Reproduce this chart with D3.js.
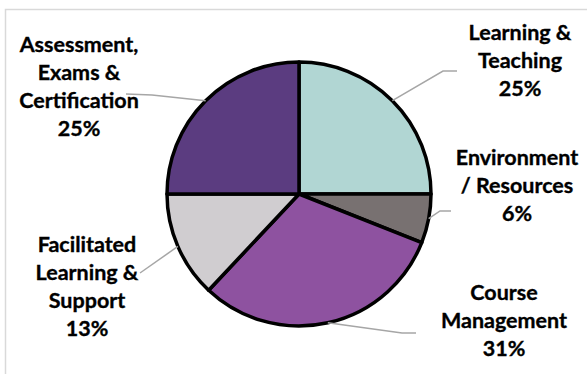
<!DOCTYPE html>
<html>
<head>
<meta charset="utf-8">
<script src="https://cdn.jsdelivr.net/npm/d3@7"></script>
<style>
  html, body { margin: 0; padding: 0; background: #ffffff; }
  svg { display: block; }
  text { font-family: Lato, "Open Sans", sans-serif; font-weight: 700; fill: #000; stroke: #000; stroke-width: 0.35px; }
</style>
</head>
<body>
<svg id="chart" width="587" height="374"></svg>
<script>
// Share of feedback by theme (percent), clockwise from 12 o'clock
const categories = [
  "Learning & Teaching",
  "Environment / Resources",
  "Course Management",
  "Facilitated Learning & Support",
  "Assessment, Exams & Certification"
];
const values = [25, 6, 31, 13, 25];
const labelLines = [
  ["Learning &", "Teaching"],
  ["Environment", "/ Resources"],
  ["Course", "Management"],
  ["Facilitated", "Learning &", "Support"],
  ["Assessment,", "Exams &", "Certification"]
];
const colors = ["#b1d6d3", "#787171", "#8e52a0", "#d0cdd0", "#5b3c80"];

// Layout: label block centre / first baseline, and leader-line bends
const W = 587, H = 374;
const cx = 299, cy = 194, R = 132;
const lineH = 28;
const labelLayout = [
  { x: 520, y: 40, leader: [[443, 71], [457, 71]] },
  { x: 517, y: 165, leader: [[440, 211], [451, 211]] },
  { x: 504, y: 300, leader: [[402, 333], [416, 333]] },
  { x: 87, y: 252, leader: [[140, 273]] },
  { x: 79, y: 52, leader: [[152, 95], [126, 94]] }
];

const svg = d3.select("#chart");

// chart area frame
svg.append("rect")
  .attr("x", 5.5).attr("y", 9.5)
  .attr("width", W + 20).attr("height", H + 20)
  .attr("fill", "#fff")
  .attr("stroke", "#d9d9d9").attr("stroke-width", 1.5);

const pie = d3.pie().sort(null).value(d => d)
  .startAngle(0).endAngle(2 * Math.PI);
const arcs = pie(values);

const arc = d3.arc().innerRadius(0).outerRadius(R);
const edgeArc = d3.arc().innerRadius(R).outerRadius(R);

const g = svg.append("g").attr("transform", `translate(${cx},${cy})`);

g.selectAll("path.slice")
  .data(arcs)
  .join("path")
  .attr("class", "slice")
  .attr("d", arc)
  .attr("fill", (d, i) => colors[i])
  .attr("stroke", "#000")
  .attr("stroke-width", 3.5)
  .attr("stroke-linejoin", "round");

// leader lines from slice edge to label
const line = d3.line();
svg.selectAll("path.leader")
  .data(arcs)
  .join("path")
  .attr("class", "leader")
  .attr("fill", "none")
  .attr("stroke", "#a6a6a6")
  .attr("stroke-width", 1.5)
  .attr("d", (d, i) => {
    const [ex, ey] = edgeArc.centroid(d);
    return line([[cx + ex, cy + ey], ...labelLayout[i].leader]);
  });

// labels: category name lines plus percentage
const fmt = d3.format(".0%");
const total = d3.sum(values);
arcs.forEach((d, i) => {
  const L = labelLayout[i];
  const lines = labelLines[i].concat([fmt(values[i] / total)]);
  const t = svg.append("text")
    .attr("text-anchor", "middle")
    .attr("font-size", 21.5);
  lines.forEach((s, k) => {
    t.append("tspan")
      .attr("x", L.x)
      .attr("y", L.y + k * lineH)
      .text(s);
  });
});
</script>
</body>
</html>
